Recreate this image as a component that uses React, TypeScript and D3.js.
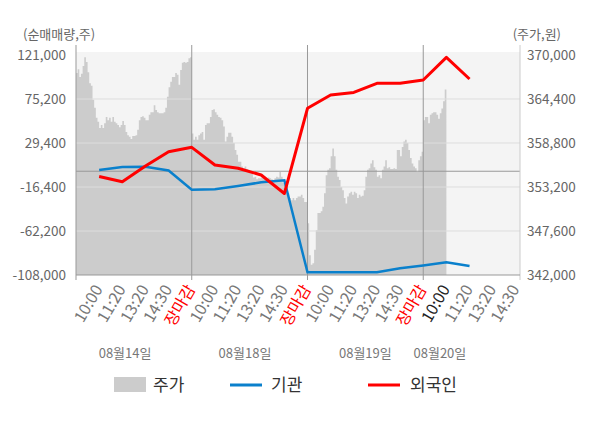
import React, { useEffect, useRef } from "react";
import * as d3 from "d3";

// x categories (one per intraday checkpoint, 4 trading days)
const timeLabels = [
  "10:00", "11:20", "13:20", "14:30", "장마감",
  "10:00", "11:20", "13:20", "14:30", "장마감",
  "10:00", "11:20", "13:20", "14:30", "장마감",
  "10:00", "11:20", "13:20", "14:30",
];
const dayLabels = ["08월14일", "08월18일", "08월19일", "08월20일"];

// 외국인 / 기관 net volume (shares), from 10:00 of day 1 to 11:20 of day 4
const foreign = [
  -5500, -10900, 5500, 20300, 24900, 6500, 3100, -3900, -23200,
  65500, 79400, 82000, 91500, 91500, 95000, 118600, 96000,
];
const institution = [
  1300, 4400, 4700, 800, -19200, -18800, -15400, -11500, -9400,
  -105200, -105200, -105200, -105200, -101000, -98100, -94800, -98600,
];

// intraday share price (won)
const priceDay1 = [
  367700, 368200, 367200, 367600, 368600, 369700, 369100, 367800, 366400, 366100,
  364300, 363300, 362000, 361500, 360700, 361100, 360700, 361300, 362100, 361700,
  362000, 361500, 362100, 361500, 361300, 361100, 360800, 361100, 361600, 361100,
  360200, 359800, 359600, 359300, 359700, 359700, 359800, 360500, 361700, 362100,
  362200, 362000, 361700, 361700, 362400, 362700, 362700, 363600, 363000, 362700,
  362600, 362600, 362600, 362700, 363300, 364700, 365900, 366600, 367200, 367200,
  367700, 367500, 366200, 368100, 369000, 369100, 369000, 369100, 369600, 369700,
];
const priceDay2 = [
  360000, 359200, 359600, 359200, 359800, 360000, 360200, 359200, 361100, 361300,
  361300, 362100, 363000, 363100, 362700, 362400, 362100, 362000, 361700, 360900,
  359000, 359600, 360100, 360100, 359600, 358800, 357900, 357300, 356400, 356400,
  355800, 355600, 355800, 355500, 355400, 355000, 355000, 354400, 354500, 354200,
  354300, 354300, 354400, 354300, 354200, 354100, 354400, 354300, 354200, 354100,
  354300, 354500, 354400, 355100, 354500, 353700, 353500, 353700, 352400, 351800,
  351500, 351800, 351500, 351800, 352000, 352000, 352200, 351800, 351300,
];
const priceDay3 = [
  348600, 344500, 343300, 343500, 345200, 347700, 349900, 349900, 350100, 350700,
  352400, 354700, 355400, 355600, 357100, 358100, 357100, 355400, 354500, 354100,
  353200, 352800, 351800, 351100, 352000, 352400, 352600, 352200, 352600, 352400,
  351800, 352200, 352000, 352100, 352800, 354500, 355400, 355600, 356200, 356600,
  355700, 355400, 354500, 354700, 354300, 355400, 355800, 356600, 355600, 355700,
  355500, 355500, 355600, 355500, 357900, 357900, 357100, 358300, 359000, 359200,
  358800, 357900, 356900, 356200, 355800, 355600, 355100, 356600, 357100, 357700,
];
const priceDay4 = [
  361700, 362100, 362100, 361300, 362400, 362600, 362700, 362700, 362400, 361900,
  362600, 363200, 364100, 365600,
];

const leftTicks = [121000, 75200, 29400, -16400, -62200, -108000];
const rightTicks = [370000, 364400, 358800, 353200, 347600, 342000];

const FONT = "'Noto Sans CJK KR', 'Noto Sans', sans-serif";

const App: React.FC = () => {
  const svgRef = useRef<SVGSVGElement | null>(null);

  useEffect(() => {
    if (!svgRef.current) return;
    const svg = d3.select(svgRef.current);
    svg.selectAll("*").remove();

    const width = 600;
    const height = 428;
    svg.attr("width", width).attr("height", height).style("font-family", FONT);

    const left = 76, right = 520, top = 55, bottom = 275;

    const x = d3.scaleLinear().domain([0, 19.18]).range([left, right]);
    const yL = d3.scaleLinear().domain([-108000, 121000]).range([bottom, top]);
    const yR = d3.scaleLinear().domain([342000, 370000]).range([bottom, top]);

    // plot background
    svg.append("rect")
      .attr("x", left).attr("y", top - 3)
      .attr("width", right - left).attr("height", bottom - top + 3)
      .attr("fill", "#f4f4f4");

    // price area
    const days = [priceDay1, priceDay2, priceDay3, priceDay4];
    const pts: { k: number; p: number }[] = [];
    days.forEach((arr, d) => {
      arr.forEach((p, j) => pts.push({ k: d * 5 + (j * 5) / 70, p }));
    });
    const last = pts[pts.length - 1];
    pts.push({ k: last.k + 5 / 70, p: last.p });
    const area = d3.area<{ k: number; p: number }>()
      .x(d => x(d.k))
      .y0(bottom)
      .y1(d => yR(d.p))
      .curve(d3.curveStepAfter);
    svg.append("path").datum(pts).attr("d", area).attr("fill", "#cccccc");

    // grid
    svg.append("g").selectAll("line")
      .data(leftTicks.slice(1, -1))
      .enter().append("line")
      .attr("x1", left).attr("x2", right)
      .attr("y1", d => yL(d)).attr("y2", d => yL(d))
      .attr("stroke", "#dddddd").attr("stroke-width", 1);
    svg.append("line")
      .attr("x1", left).attr("x2", right)
      .attr("y1", yL(0)).attr("y2", yL(0))
      .attr("stroke", "#999999");

    // vertical day separators and axes
    svg.append("g").selectAll("line")
      .data([5, 10, 15])
      .enter().append("line")
      .attr("x1", d => x(d)).attr("x2", d => x(d))
      .attr("y1", 45).attr("y2", bottom + 5)
      .attr("stroke", "#999999");
    svg.append("line").attr("x1", left).attr("x2", left)
      .attr("y1", 45).attr("y2", bottom + 5).attr("stroke", "#999999");
    svg.append("line").attr("x1", right).attr("x2", right)
      .attr("y1", 45).attr("y2", bottom + 5).attr("stroke", "#cccccc");
    svg.append("line").attr("x1", left).attr("x2", right)
      .attr("y1", bottom).attr("y2", bottom).attr("stroke", "#999999");

    // lines
    const line = d3.line<number>()
      .x((_, i) => x(i + 1))
      .y(d => yL(d));
    svg.append("path").datum(institution).attr("d", line)
      .attr("fill", "none").attr("stroke", "#0a80cc").attr("stroke-width", 2.5);
    svg.append("path").datum(foreign).attr("d", line)
      .attr("fill", "none").attr("stroke", "#ff0000").attr("stroke-width", 3)
      .attr("stroke-linejoin", "round");

    // left / right tick labels
    const fmt = d3.formatLocale({
      decimal: ".", thousands: ",", grouping: [3], currency: ["", ""], minus: "-",
    }).format(",");
    svg.append("g").selectAll("text")
      .data(leftTicks).enter().append("text")
      .attr("x", 66).attr("y", d => yL(d)).attr("dy", "0.35em")
      .attr("text-anchor", "end").attr("font-size", 13.5).attr("fill", "#666")
      .text(d => fmt(d));
    svg.append("g").selectAll("text")
      .data(rightTicks).enter().append("text")
      .attr("x", 527).attr("y", d => yR(d)).attr("dy", "0.35em")
      .attr("text-anchor", "start").attr("font-size", 13.5).attr("fill", "#666")
      .text(d => fmt(d));

    svg.append("text").attr("x", 23).attr("y", 34).attr("dy", "0.35em")
      .attr("font-size", 13).attr("fill", "#666").text("(순매매량,주)");
    svg.append("text").attr("x", 561).attr("y", 34).attr("dy", "0.35em")
      .attr("text-anchor", "end")
      .attr("font-size", 13).attr("fill", "#666").text("(주가,원)");

    // x labels
    svg.append("g").selectAll("text")
      .data(timeLabels).enter().append("text")
      .attr("transform", (_, i) => `translate(${x(i + 1) + 4},${bottom + 14}) rotate(-60)`)
      .attr("text-anchor", "end").attr("font-size", 16)
      .attr("fill", (d, i) => (d === "장마감" ? "#ff0000" : i === 15 ? "#222" : "#777"))
      .text(d => d);

    const dayOffsets = [2.12, 2.3, 2.5, 0.72];
    svg.append("g").selectAll("text")
      .data(dayLabels).enter().append("text")
      .attr("x", (_, i) => x(i * 5 + dayOffsets[i])).attr("y", 353).attr("dy", "0.35em")
      .attr("text-anchor", "middle").attr("font-size", 13).attr("fill", "#777")
      .text(d => d);

    // legend
    const lg = svg.append("g").attr("transform", "translate(0,385)");
    lg.append("rect").attr("x", 114).attr("y", -8).attr("width", 32).attr("height", 15)
      .attr("fill", "#cccccc");
    lg.append("text").attr("x", 153).attr("dy", "0.35em").attr("font-size", 17)
      .attr("fill", "#333").text("주가");
    lg.append("line").attr("x1", 230).attr("x2", 262)
      .attr("stroke", "#0a80cc").attr("stroke-width", 3);
    lg.append("text").attr("x", 271).attr("dy", "0.35em").attr("font-size", 17)
      .attr("fill", "#333").text("기관");
    lg.append("line").attr("x1", 368).attr("x2", 400)
      .attr("stroke", "#ff0000").attr("stroke-width", 3);
    lg.append("text").attr("x", 410).attr("dy", "0.35em").attr("font-size", 17)
      .attr("fill", "#333").text("외국인");
  }, []);

  return (
    <div style={{ position: "absolute", left: 0, top: 0 }}>
      <svg ref={svgRef}></svg>
    </div>
  );
};

export default App;
